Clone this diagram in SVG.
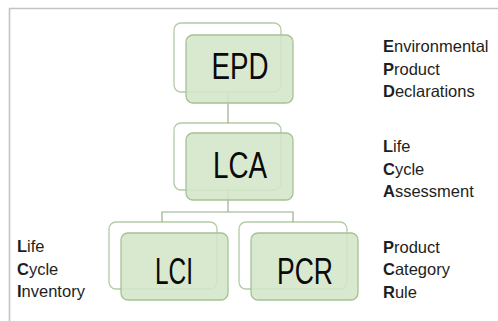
<svg xmlns="http://www.w3.org/2000/svg" width="498" height="321" viewBox="0 0 498 321">
<style>
.back{fill:#ffffff;stroke:#b3cba6;stroke-width:1.3}
.front{fill:#d3e6ca;fill-opacity:0.88;stroke:#a4c295;stroke-width:1.3}
.conn{fill:none;stroke:#98b08e;stroke-width:1.2}
.big{font-family:"Liberation Sans",Arial,sans-serif;font-size:36px;fill:#0a0a0a;text-anchor:middle}
.lbl{font-family:"Liberation Sans",Arial,sans-serif;font-size:16.5px;fill:#1e1e1e}
.lbl tspan.b{font-weight:bold}
</style>
<rect x="0" y="0" width="498" height="321" fill="#ffffff"/>
<g id="frame">
<line x1="9" y1="8.5" x2="498" y2="8.5" stroke="#c4c4c4" stroke-width="1.6"/>
<line x1="9.5" y1="8" x2="9.5" y2="321" stroke="#c4c4c4" stroke-width="1.6"/>
</g>
<g id="backs">
<rect class="back" x="174" y="23" width="107" height="69" rx="7"/>
<rect class="back" x="174" y="123" width="107" height="67" rx="7"/>
<rect class="back" x="109" y="222" width="108" height="67" rx="7"/>
<rect class="back" x="239" y="222" width="108" height="67" rx="7"/>
</g>
<g id="connectors">
<path class="conn" d="M228,92 V123"/>
<path class="conn" d="M228,190 V212 M162,222 V212 H293 V222"/>
</g>
<g id="EPD">
<rect class="front" x="186" y="35" width="107" height="68" rx="7"/>
<text class="big" x="240" y="79" textLength="57" lengthAdjust="spacingAndGlyphs">EPD</text>
</g>
<g id="LCA">
<rect class="front" x="186" y="133" width="107" height="67" rx="7"/>
<text class="big" x="240" y="178" textLength="54" lengthAdjust="spacingAndGlyphs">LCA</text>
</g>
<g id="LCI">
<rect class="front" x="121" y="233" width="107" height="67" rx="7"/>
<text class="big" x="174" y="284" textLength="38" lengthAdjust="spacingAndGlyphs">LCI</text>
</g>
<g id="PCR">
<rect class="front" x="251" y="233" width="107" height="67" rx="7"/>
<text class="big" x="305" y="284" textLength="56" lengthAdjust="spacingAndGlyphs">PCR</text>
</g>
<g id="label-epd">
<text class="lbl" x="383" y="52"><tspan class="b">E</tspan>nvironmental</text>
<text class="lbl" x="383" y="75"><tspan class="b">P</tspan>roduct</text>
<text class="lbl" x="383" y="97"><tspan class="b">D</tspan>eclarations</text>
</g>
<g id="label-lca">
<text class="lbl" x="383" y="152"><tspan class="b">L</tspan>ife</text>
<text class="lbl" x="383" y="175"><tspan class="b">C</tspan>ycle</text>
<text class="lbl" x="383" y="197"><tspan class="b">A</tspan>ssessment</text>
</g>
<g id="label-pcr">
<text class="lbl" x="383" y="253"><tspan class="b">P</tspan>roduct</text>
<text class="lbl" x="383" y="275"><tspan class="b">C</tspan>ategory</text>
<text class="lbl" x="383" y="298"><tspan class="b">R</tspan>ule</text>
</g>
<g id="label-lci">
<text class="lbl" x="17" y="252"><tspan class="b">L</tspan>ife</text>
<text class="lbl" x="17" y="275"><tspan class="b">C</tspan>ycle</text>
<text class="lbl" x="17" y="297"><tspan class="b">I</tspan>nventory</text>
</g>
</svg>
